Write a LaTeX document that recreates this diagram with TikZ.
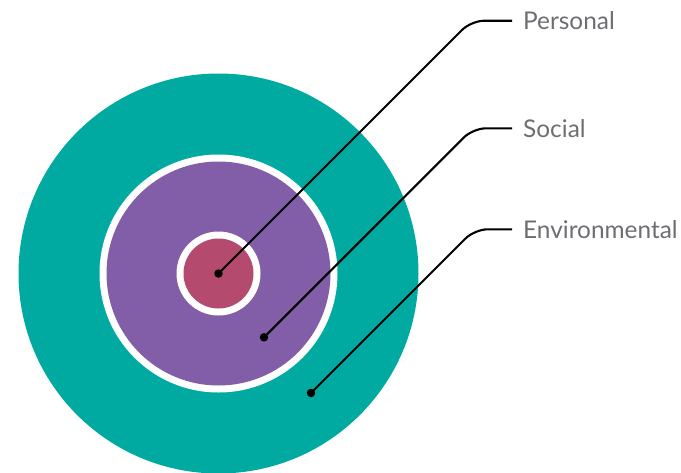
\documentclass[tikz,border=0pt]{standalone}
\usepackage{fontspec}
\setmainfont{Lato}

\definecolor{ringteal}{HTML}{00AAA0}
\definecolor{ringpurple}{HTML}{825EA8}
\definecolor{ringrose}{HTML}{B44A6E}
\definecolor{labelgray}{HTML}{6D6E72}

\tikzset{
  dot/.style={circle, fill=black, inner sep=0pt, minimum size=8.5pt},
  lbl/.style={anchor=west, inner xsep=11pt, inner ysep=0pt, text=labelgray,
              font=\fontsize{24.4}{29}\selectfont},
  lead/.style={line width=2.1pt, rounded corners=13pt}
}

\begin{document}
\begin{tikzpicture}[x=1pt,y=-1pt]
\useasboundingbox (0,0) rectangle (681,472);

% the three rings
\coordinate (Centre) at (218.5,273.5);
\fill[ringteal] (Centre) circle (200);
\fill[white] (Centre) circle (119);
\fill[ringpurple] (Centre) circle (112);
\fill[white] (Centre) circle (42);
\fill[ringrose] (Centre) circle (35);

% callouts: dot, bend at 45 degrees, label
\foreach \name/\px/\py/\ly/\txt in {Pers/218.5/273.5/20.7/Personal, Soc/264/337.3/128.3/Social, Env/311/393/229.3/Environmental}{
  \node[dot] (Dot\name) at (\px,\py) {};
  \node[lbl] (Label\name) at (512,\ly) {\txt};
  \coordinate (Bend\name) at ({\px+\py-\ly},\ly);
  \draw[lead] (Dot\name.center) -- (Bend\name) -- (Label\name.west);
}
\end{tikzpicture}
\end{document}
